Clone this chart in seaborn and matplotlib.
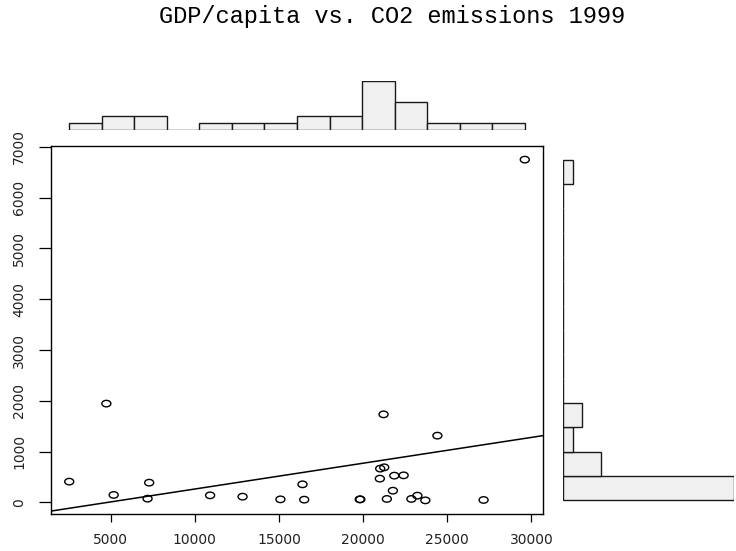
import numpy as np
import pandas as pd
import matplotlib
matplotlib.use("Agg")
import matplotlib.pyplot as plt
from matplotlib.path import Path
import seaborn as sns

# GDP per capita (US$) and CO2 emissions per country, 1999
gdp = [2536, 4743, 5179, 7286, 7190, 10907, 12835, 15084, 16497, 16396,
       19797, 19830, 21211, 24410, 21011, 21250, 20990, 21850, 22404, 21766,
       21408, 22864, 23221, 23693, 27154, 29601]
co2 = [408, 1945, 146, 388, 73, 138, 112, 59, 53, 355,
       59, 59, 1733, 1314, 664, 690, 467, 526, 532, 230,
       67, 67, 132, 39, 47, 6750]
x_ticks = [5000, 10000, 15000, 20000, 25000, 30000]
y_ticks = [0, 1000, 2000, 3000, 4000, 5000, 6000, 7000]
n_bins = 14
title = "GDP/capita vs. CO2 emissions 1999"

df = pd.DataFrame({"gdp": gdp, "co2": co2})

sns.set_theme(style="white")
plt.rcParams["font.family"] = ["DejaVu Sans"]

W, H = 736, 551
fig = plt.figure(figsize=(W / 100, H / 100), dpi=100)


def frac(left, top, right, bottom):
    return [left / W, 1 - bottom / H, (right - left) / W, (bottom - top) / H]


ax = fig.add_axes(frac(51, 146, 543, 514))
ax_top = fig.add_axes(frac(51, 80.7, 543, 130), sharex=ax)
ax_right = fig.add_axes(frac(563.3, 146, 734.3, 514), sharey=ax)

# axis limits with 4% padding around the data range
def padded(v):
    lo, hi = min(v), max(v)
    r = hi - lo
    return lo - 0.04 * r, hi + 0.04 * r

ax.set_xlim(*padded(gdp))
ax.set_ylim(*padded(co2))

# slightly flattened open-circle marker
circ = Path.unit_circle()
ell = Path(circ.vertices * np.array([1.0, 0.72]), circ.codes)

sns.scatterplot(data=df, x="gdp", y="co2", ax=ax, marker=ell, s=42,
                facecolor="none", edgecolor="black", linewidth=1.0)
sns.regplot(data=df, x="gdp", y="co2", ax=ax, scatter=False, ci=None,
            truncate=False, line_kws=dict(color="black", linewidth=1.1))

ax.set_xticks(x_ticks)
ax.set_yticks(y_ticks)
ax.set_xlabel("")
ax.set_ylabel("")
for s in ax.spines.values():
    s.set_visible(True)
    s.set_color("black")
    s.set_linewidth(1.0)
ax.tick_params(axis="x", direction="out", length=5.4, width=0.9, pad=8.5,
               labelsize=10, colors="black", labelcolor="#222222", bottom=True)
ax.tick_params(axis="y", direction="out", length=8.3, width=0.9, pad=9.5,
               labelsize=10, colors="black", labelcolor="#222222", left=True)
for lab in ax.get_yticklabels():
    lab.set_rotation(90)
    lab.set_va("center")

bar_kw = dict(color="#f0f0f0", edgecolor="#1a1a1a", linewidth=1.0, alpha=1)
sns.histplot(data=df, x="gdp", bins=n_bins, ax=ax_top, **bar_kw)
sns.histplot(data=df, y="co2", bins=n_bins, ax=ax_right, **bar_kw)

ax_top.set_ylim(0, 7)
ax_right.set_xlim(0, 18)
ax.set_xlim(*padded(gdp))
ax.set_ylim(*padded(co2))
for a in (ax_top, ax_right):
    a.set_axis_off()

fig.text(392 / W, 1 - 16.5 / H, title, ha="center", va="center",
         family="Liberation Mono", fontsize=17, color="black")

fig.savefig("out.png", dpi=100)
